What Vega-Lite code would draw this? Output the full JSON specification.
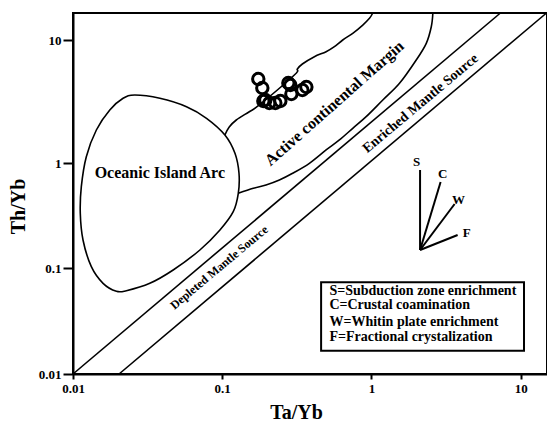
{
  "$schema": "https://vega.github.io/schema/vega-lite/v6.json",
  "width": 474,
  "height": 361,
  "autosize": "none",
  "padding": {"left": 73, "top": 13, "right": 0, "bottom": 56},
  "background": "white",
  "config": {
    "view": {"stroke": "black", "strokeWidth": 2},
    "axis": {
      "labelFont": "Liberation Serif", "labelFontWeight": "bold", "labelFontSize": 13, "labelColor": "black",
      "titleFont": "Liberation Serif", "titleFontWeight": "bold", "titleFontSize": 20, "titleColor": "black",
      "domainColor": "black", "domainWidth": 2, "tickColor": "black", "tickWidth": 2, "grid": false
    }
  },
  "encoding": {
    "x": {
      "field": "x", "type": "quantitative",
      "scale": {"type": "log", "domain": [0.01, 15], "nice": false},
      "axis": {"values": [0.01, 0.1, 1, 10], "format": "~g", "tickSize": 5, "labelPadding": 3, "labelFlush": false,
        "title": "Ta/Yb", "titleX": 223, "titleY": 38, "titleAlign": "center", "titleBaseline": "middle"}
    },
    "y": {
      "field": "y", "type": "quantitative",
      "scale": {"type": "log", "domain": [0.01, 0.1, 1, 10, 16.7], "range": [361, 255.3, 150.3, 27.3, 0], "nice": false},
      "axis": {"values": [0.01, 0.1, 1, 10], "format": "~g", "tickSize": 10, "labelPadding": 2, "labelFlush": false,
        "title": "Th/Yb", "titleX": -55, "titleY": 193, "titleAngle": 270, "titleAlign": "center", "titleBaseline": "middle"}
    }
  },
  "layer": [
    {
      "data": {"values": [
        {"g": "a", "i": 0, "x": 0.01, "y": 0.01}, {"g": "a", "i": 1, "x": 7.31, "y": 16.7},
        {"g": "b", "i": 0, "x": 0.02036, "y": 0.01}, {"g": "b", "i": 1, "x": 14.88, "y": 16.7}
      ]},
      "mark": {"type": "line", "color": "black", "strokeWidth": 1.6},
      "encoding": {"detail": {"field": "g"}, "order": {"field": "i", "type": "quantitative"}}
    },
    {
      "data": {"values": [
        {"i": 1, "x": 0.02595, "y": 3.592}, {"i": 2, "x": 0.03819, "y": 3.377}, {"i": 3, "x": 0.0576, "y": 2.885},
        {"i": 4, "x": 0.07846, "y": 2.322}, {"i": 5, "x": 0.1042, "y": 1.699}, {"i": 6, "x": 0.1217, "y": 1.206},
        {"i": 7, "x": 0.1295, "y": 0.8031}, {"i": 8, "x": 0.1281, "y": 0.518}, {"i": 9, "x": 0.1185, "y": 0.3459},
        {"i": 10, "x": 0.09652, "y": 0.2317}, {"i": 11, "x": 0.07085, "y": 0.1494}, {"i": 12, "x": 0.0469, "y": 0.09636},
        {"i": 13, "x": 0.03271, "y": 0.07211}, {"i": 14, "x": 0.02279, "y": 0.06139}, {"i": 15, "x": 0.01953, "y": 0.06059},
        {"i": 16, "x": 0.0159, "y": 0.07211}, {"i": 17, "x": 0.01327, "y": 0.1036}, {"i": 18, "x": 0.01167, "y": 0.186},
        {"i": 19, "x": 0.01119, "y": 0.3341}, {"i": 20, "x": 0.01137, "y": 0.5987}, {"i": 21, "x": 0.01228, "y": 1.132},
        {"i": 22, "x": 0.01434, "y": 1.865}, {"i": 23, "x": 0.01764, "y": 2.713}, {"i": 24, "x": 0.02166, "y": 3.377}
      ]},
      "mark": {"type": "line", "color": "black", "strokeWidth": 1.6, "interpolate": "cardinal-closed"},
      "encoding": {"order": {"field": "i", "type": "quantitative"}}
    },
    {
      "data": {"values": [
        {"g": "u", "i": 0, "x": 0.1042, "y": 1.699}, {"g": "u", "i": 1, "x": 0.1114, "y": 1.973},
        {"g": "u", "i": 2, "x": 0.1242, "y": 2.249}, {"g": "u", "i": 3, "x": 0.1518, "y": 2.627},
        {"g": "u", "i": 4, "x": 0.1771, "y": 2.979}, {"g": "u", "i": 5, "x": 0.3042, "y": 5.222},
        {"g": "u", "i": 6, "x": 0.3187, "y": 5.843}, {"g": "u", "i": 7, "x": 0.3443, "y": 6.416},
        {"g": "u", "i": 8, "x": 0.4145, "y": 7.356}, {"g": "u", "i": 9, "x": 0.4966, "y": 8.078},
        {"g": "u", "i": 10, "x": 0.5645, "y": 8.872}, {"g": "u", "i": 11, "x": 0.6419, "y": 10.06},
        {"g": "u", "i": 12, "x": 0.7491, "y": 11.4}, {"g": "u", "i": 13, "x": 0.8744, "y": 13.32},
        {"g": "u", "i": 14, "x": 0.9696, "y": 15.1}, {"g": "u", "i": 15, "x": 1.02, "y": 16.7},
        {"g": "l", "i": 0, "x": 0.1281, "y": 0.518}, {"g": "l", "i": 1, "x": 0.1615, "y": 0.5779},
        {"g": "l", "i": 2, "x": 0.1965, "y": 0.6215}, {"g": "l", "i": 3, "x": 0.2414, "y": 0.6934},
        {"g": "l", "i": 4, "x": 0.2963, "y": 0.8031}, {"g": "l", "i": 5, "x": 0.3836, "y": 1.0},
        {"g": "l", "i": 6, "x": 0.4966, "y": 1.283}, {"g": "l", "i": 7, "x": 0.6098, "y": 1.547},
        {"g": "l", "i": 8, "x": 0.7491, "y": 1.925}, {"g": "l", "i": 9, "x": 0.9213, "y": 2.393},
        {"g": "l", "i": 10, "x": 1.191, "y": 3.27}, {"g": "l", "i": 11, "x": 1.541, "y": 4.471},
        {"g": "l", "i": 12, "x": 1.995, "y": 6.918}, {"g": "l", "i": 13, "x": 2.329, "y": 9.454},
        {"g": "l", "i": 14, "x": 2.516, "y": 12.9}, {"g": "l", "i": 15, "x": 2.578, "y": 16.7}
      ]},
      "mark": {"type": "line", "color": "black", "strokeWidth": 1.6, "interpolate": "cardinal"},
      "encoding": {"detail": {"field": "g"}, "order": {"field": "i", "type": "quantitative"}}
    },
    {
      "data": {"values": [
        {"x": 0.1744, "y": 4.846}, {"x": 0.1856, "y": 4.095}, {"x": 0.1885, "y": 3.211}, {"x": 0.2068, "y": 3.092},
        {"x": 0.2268, "y": 3.092}, {"x": 0.2451, "y": 3.211}, {"x": 0.2773, "y": 4.496}, {"x": 0.286, "y": 4.331},
        {"x": 0.2905, "y": 3.66}, {"x": 0.3443, "y": 3.944}, {"x": 0.3662, "y": 4.172}, {"x": 0.1944, "y": 3.27}
      ]},
      "mark": {"type": "point", "shape": "circle", "filled": false, "stroke": "black", "strokeWidth": 3, "size": 130, "opacity": 1}
    },
    {
      "data": {"values": [
        {"x": 2.116, "y": 0.1494, "x2": 2.116, "y2": 0.8634},
        {"x": 2.116, "y": 0.1494, "x2": 2.905, "y2": 0.6636},
        {"x": 2.116, "y": 0.1494, "x2": 3.606, "y2": 0.4098},
        {"x": 2.116, "y": 0.1494, "x2": 3.778, "y2": 0.2076}
      ]},
      "mark": {"type": "rule", "color": "black", "strokeWidth": 2},
      "encoding": {"x2": {"field": "x2"}, "y2": {"field": "y2"}}
    },
    {
      "data": {"values": [
        {"x": 2.005, "y": 1.0246, "t": "S"}, {"x": 2.995, "y": 0.7908, "t": "C"},
        {"x": 3.836, "y": 0.447, "t": "W"}, {"x": 4.341, "y": 0.2169, "t": "F"}
      ]},
      "mark": {"type": "text", "font": "Liberation Serif", "fontWeight": "bold", "fontSize": 13, "color": "black", "align": "center", "baseline": "middle"},
      "encoding": {"text": {"field": "t"}}
    },
    {
      "data": {"values": [{"x": 0.4597, "x2": 10.52, "y": 0.0737, "y2": 0.01661}]},
      "mark": {"type": "rect", "fill": "white", "stroke": "black", "strokeWidth": 2},
      "encoding": {"x2": {"field": "x2"}, "y2": {"field": "y2"}}
    },
    {
      "data": {"values": [
        {"x": 0.5225, "y": 0.0614, "t": "S=Subduction zone enrichment"},
        {"x": 0.5225, "y": 0.04496, "t": "C=Crustal coamination"},
        {"x": 0.5225, "y": 0.03126, "t": "W=Whitin plate enrichment"},
        {"x": 0.5225, "y": 0.02254, "t": "F=Fractional crystalization"}
      ]},
      "mark": {"type": "text", "font": "Liberation Serif", "fontWeight": "bold", "fontSize": 14, "color": "black", "align": "left", "baseline": "middle"},
      "encoding": {"text": {"field": "t"}}
    },
    {
      "data": {"values": [{"x": 0.03819, "y": 0.8137, "t": "Oceanic Island Arc"}]},
      "mark": {"type": "text", "font": "Liberation Serif", "fontWeight": "bold", "fontSize": 16, "color": "black", "align": "center", "baseline": "middle"},
      "encoding": {"text": {"field": "t"}}
    },
    {
      "data": {"values": [{"x": 0.5645, "y": 3.075, "t": "Active continental Margin"}]},
      "mark": {"type": "text", "font": "Liberation Serif", "fontWeight": "bold", "fontSize": 16, "color": "black", "align": "center", "baseline": "middle", "angle": -41.5},
      "encoding": {"text": {"field": "t"}}
    },
    {
      "data": {"values": [{"x": 2.132, "y": 3.064, "t": "Enriched Mantle Source"}]},
      "mark": {"type": "text", "font": "Liberation Serif", "fontWeight": "bold", "fontSize": 14, "color": "black", "align": "center", "baseline": "middle", "angle": -40},
      "encoding": {"text": {"field": "t"}}
    },
    {
      "data": {"values": [{"x": 0.09517, "y": 0.1022, "t": "Depleted Mantle Source"}]},
      "mark": {"type": "text", "font": "Liberation Serif", "fontWeight": "bold", "fontSize": 12, "color": "black", "align": "center", "baseline": "middle", "angle": -40},
      "encoding": {"text": {"field": "t"}}
    }
  ]
}
